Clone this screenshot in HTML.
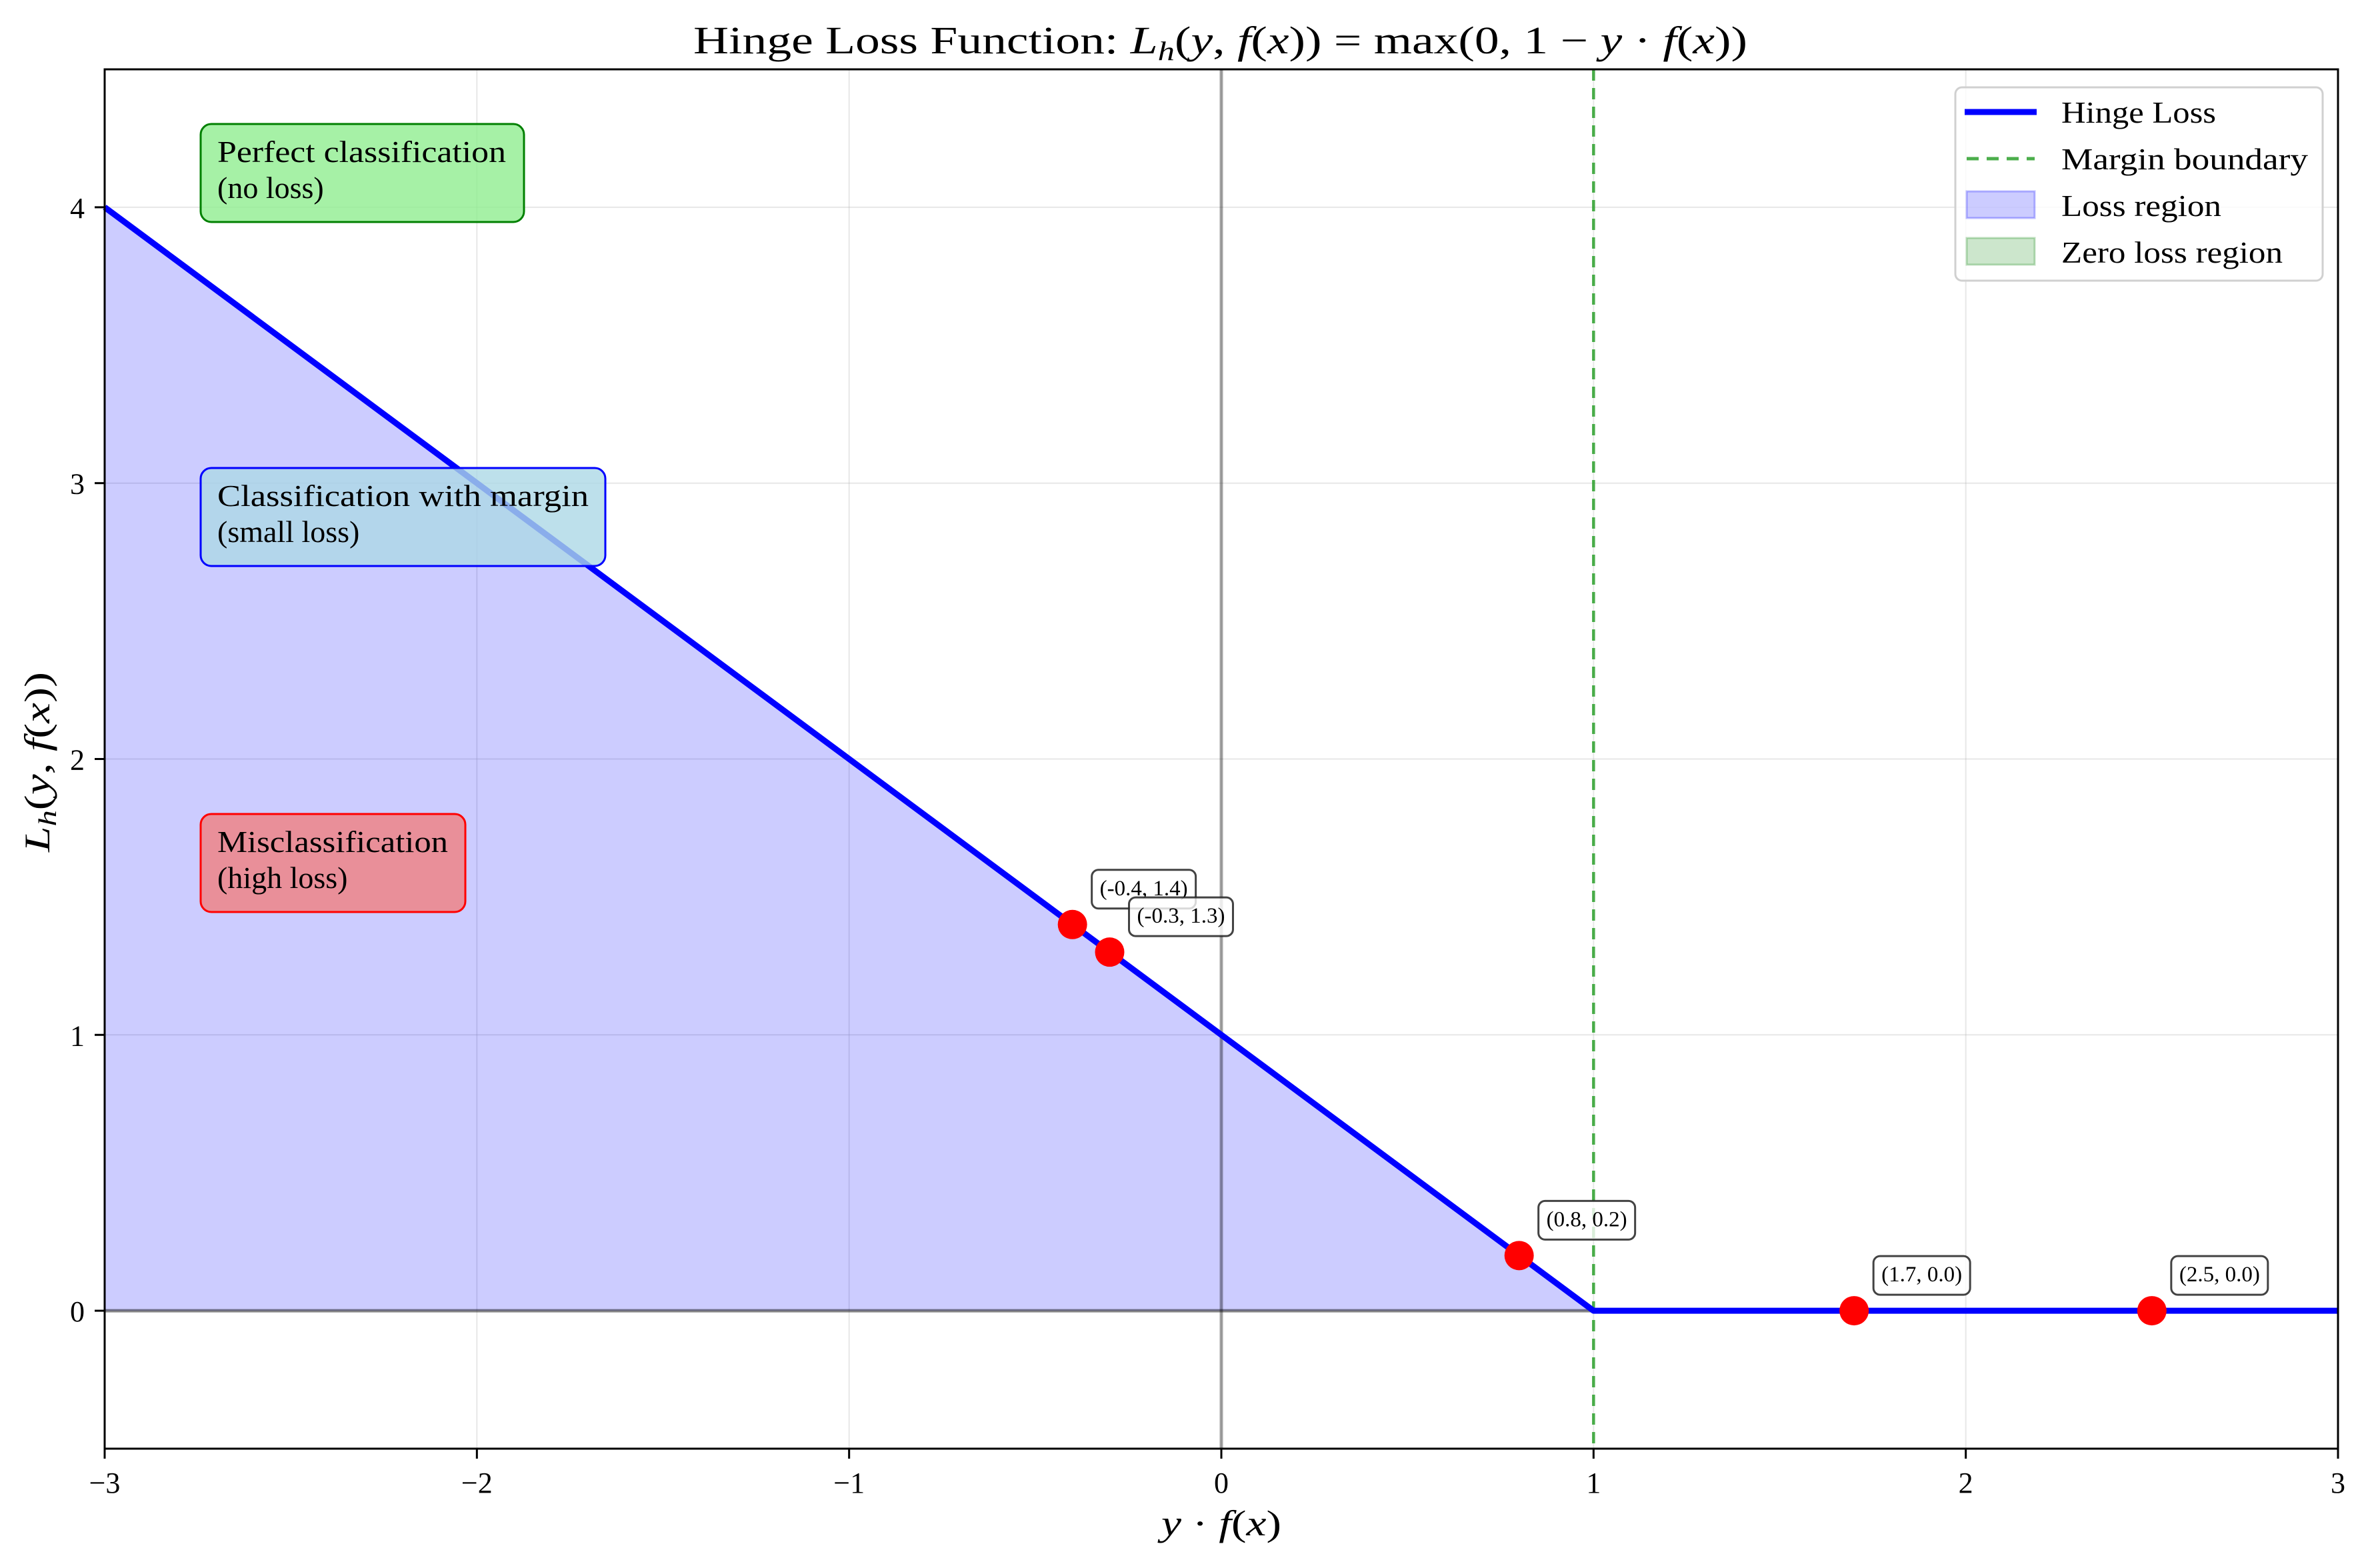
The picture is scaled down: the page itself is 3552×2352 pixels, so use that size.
<!DOCTYPE html>
<html><head><meta charset="utf-8"><style>
html,body{margin:0;padding:0;background:#fff;}
svg{display:block;font-family:"Liberation Serif","DejaVu Serif",serif;}
</style></head><body>
<svg id="chart" width="3552" height="2352" viewBox="0 0 3552 2352" xmlns="http://www.w3.org/2000/svg">
<rect width="3552" height="2352" fill="#fff"/>
<g id="grid"></g>
<g id="plot"></g>
<g id="axes"></g>
<text x="1040" y="80" font-size="58" textLength="1581" lengthAdjust="spacingAndGlyphs">Hinge Loss Function:  <tspan font-style="italic">L</tspan><tspan font-style="italic" font-size="40" dy="10">h</tspan><tspan dy="-10">(</tspan><tspan font-style="italic">y</tspan>, <tspan font-style="italic">f</tspan>(<tspan font-style="italic">x</tspan>)) = max(0, 1 − <tspan font-style="italic">y</tspan> · <tspan font-style="italic">f</tspan>(<tspan font-style="italic">x</tspan>))</text>
<text x="1742" y="2303" font-size="54" textLength="180" lengthAdjust="spacingAndGlyphs"><tspan font-style="italic">y</tspan> · <tspan font-style="italic">f</tspan>(<tspan font-style="italic">x</tspan>)</text>
<text transform="translate(74,1143) rotate(-90)" font-size="54" text-anchor="middle" textLength="270" lengthAdjust="spacingAndGlyphs"><tspan font-style="italic">L</tspan><tspan font-style="italic" font-size="38" dy="10">h</tspan><tspan dy="-10">(</tspan><tspan font-style="italic">y</tspan>, <tspan font-style="italic">f</tspan>(<tspan font-style="italic">x</tspan>))</text>

<g>
<rect x="301" y="186" width="485" height="147" rx="16" fill="#90ee90" fill-opacity="0.8" stroke="#008000" stroke-width="3"/>
<text x="326" y="243" font-size="46" textLength="433" lengthAdjust="spacingAndGlyphs">Perfect classification</text>
<text x="326" y="297" font-size="46">(no loss)</text>
</g>
<g>
<rect x="301" y="702" width="607" height="147" rx="16" fill="#add8e6" fill-opacity="0.8" stroke="#0000ff" stroke-width="3"/>
<text x="326" y="759" font-size="46" textLength="557" lengthAdjust="spacingAndGlyphs">Classification with margin</text>
<text x="326" y="813" font-size="46">(small loss)</text>
</g>
<g>
<rect x="301" y="1221" width="397" height="147" rx="16" fill="#f08080" fill-opacity="0.8" stroke="#ff0000" stroke-width="3"/>
<text x="326" y="1278" font-size="46" textLength="346" lengthAdjust="spacingAndGlyphs">Misclassification</text>
<text x="326" y="1332" font-size="46">(high loss)</text>
</g>

<g>
<rect x="2933" y="131" width="551" height="290" rx="10" fill="#fff" fill-opacity="0.8" stroke="#d0d0d0" stroke-width="3"/>
<line x1="2947" y1="168" x2="3055" y2="168" stroke="#0000ff" stroke-width="9"/>
<text x="3092" y="184" font-size="46" textLength="232" lengthAdjust="spacingAndGlyphs">Hinge Loss</text>
<line x1="2950" y1="238" x2="3052" y2="238" stroke="#2ca02c" stroke-opacity="0.85" stroke-width="5" stroke-dasharray="18,12"/>
<text x="3092" y="254" font-size="46" textLength="370" lengthAdjust="spacingAndGlyphs">Margin boundary</text>
<rect x="2950" y="287" width="102" height="40" fill="#0000ff" fill-opacity="0.2" stroke="#0000ff" stroke-opacity="0.25" stroke-width="3"/>
<text x="3092" y="324" font-size="46" textLength="240" lengthAdjust="spacingAndGlyphs">Loss region</text>
<rect x="2950" y="357" width="102" height="40" fill="#008000" fill-opacity="0.2" stroke="#008000" stroke-opacity="0.25" stroke-width="3"/>
<text x="3092" y="394" font-size="46" textLength="332" lengthAdjust="spacingAndGlyphs">Zero loss region</text>
</g>

<script>
const xTicks = [-3,-2,-1,0,1,2,3];
const yTicks = [0,1,2,3,4];
const curveX = [-3, 1, 3];
const curveY = [4, 0, 0];
const pointsX = [-0.4, -0.3, 0.8, 1.7, 2.5];
const pointsY = [1.4, 1.3, 0.2, 0.0, 0.0];
const pointLabels = ["(-0.4, 1.4)","(-0.3, 1.3)","(0.8, 0.2)","(1.7, 0.0)","(2.5, 0.0)"];
const marginX = 1;

const L=157,R=3507,T=104,B=2173;
const xmin=-3,xmax=3,ymin=-0.5,ymax=4.5;
const sx=v=>L+(v-xmin)/(xmax-xmin)*(R-L);
const sy=v=>B-(v-ymin)/(ymax-ymin)*(B-T);
const NS="http://www.w3.org/2000/svg";
function mk(tag,attrs,parent){const e=document.createElementNS(NS,tag);for(const k in attrs)e.setAttribute(k,attrs[k]);parent.appendChild(e);return e;}
const grid=document.getElementById('grid'),plot=document.getElementById('plot'),axes=document.getElementById('axes');

xTicks.forEach(t=>{
  const g=mk('line',{x1:sx(t),x2:sx(t),y1:T,y2:B,stroke:'#b0b0b0','stroke-opacity':0.3,'stroke-width':2},grid);
  
  
  mk('line',{x1:sx(t),x2:sx(t),y1:B,y2:B+15,stroke:'#000','stroke-width':3},axes);
  const tx=mk('text',{x:sx(t),y:B+66,'font-size':44,'text-anchor':'middle'},axes);
  tx.textContent=t<0?'−'+Math.abs(t):String(t);
  
  
});
yTicks.forEach(t=>{
  const g=mk('line',{x1:L,x2:R,y1:sy(t),y2:sy(t),stroke:'#b0b0b0','stroke-opacity':0.3,'stroke-width':2},grid);
  
  
  mk('line',{x1:L-15,x2:L,y1:sy(t),y2:sy(t),stroke:'#000','stroke-width':3},axes);
  const tx=mk('text',{x:L-30,y:sy(t)+16,'font-size':44,'text-anchor':'end'},axes);
  tx.textContent=String(t);
  
  
});

let d='M'+sx(curveX[0])+','+sy(0);
curveX.forEach((x,i)=>{d+=' L'+sx(x)+','+sy(curveY[i]);});
d+=' L'+sx(curveX[curveX.length-1])+','+sy(0)+' Z';
const fill=mk('path',{d:d,fill:'#0000ff','fill-opacity':0.2},plot);



const h0=mk('line',{x1:L,x2:R,y1:sy(0),y2:sy(0),stroke:'#000','stroke-opacity':0.45,'stroke-width':5},plot);


const v0=mk('line',{x1:sx(0),x2:sx(0),y1:T,y2:B,stroke:'#000','stroke-opacity':0.35,'stroke-width':5},plot);



const mline=mk('line',{x1:sx(marginX),x2:sx(marginX),y1:T,y2:B,stroke:'#2ca02c','stroke-opacity':0.85,'stroke-width':4.5,'stroke-dasharray':'17,11'},plot);



const pts=curveX.map((x,i)=>sx(x)+','+sy(curveY[i])).join(' ');
const hl=mk('polyline',{points:pts,fill:'none',stroke:'#0000ff','stroke-width':9,'stroke-linejoin':'round'},plot);



pointsX.forEach((x,i)=>{
  const c=mk('circle',{cx:sx(x),cy:sy(pointsY[i]),r:22,fill:'#ff0000'},plot);
  
  
});
pointsX.forEach((x,i)=>{
  const px=sx(x)+41, py=sy(pointsY[i])-44;
  const g=mk('g',{},plot);
  
  
  const t=mk('text',{x:px,y:py,'font-size':33},g);
  t.textContent=pointLabels[i];
  const w=t.getComputedTextLength();
  mk('rect',{x:px-12,y:py-38,width:w+24,height:58,rx:10,fill:'#fff','fill-opacity':0.8,stroke:'#222','stroke-opacity':0.85,'stroke-width':3},g);
  g.appendChild(t);
});

const fr=mk('rect',{x:L,y:T,width:R-L,height:B-T,fill:'none',stroke:'#000','stroke-width':3},axes);


</script>
</svg>
</body></html>
